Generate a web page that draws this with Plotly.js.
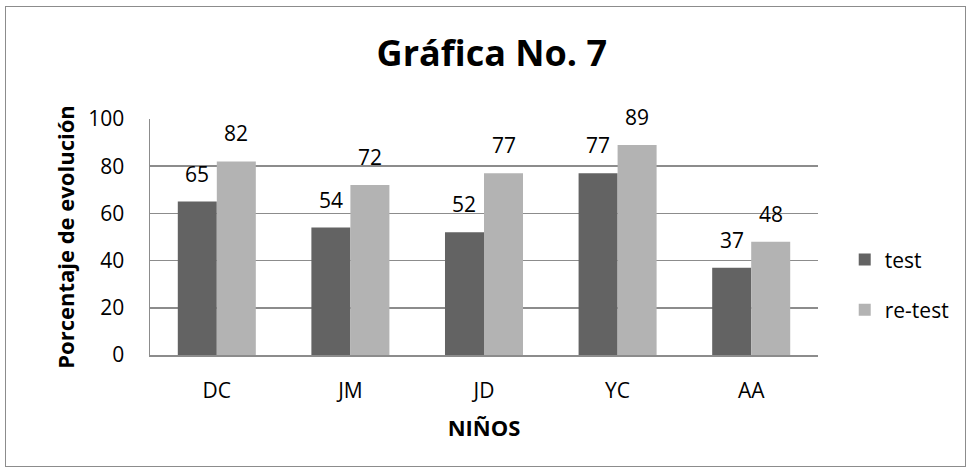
<!DOCTYPE html>
<html>
<head>
<meta charset="utf-8">
<script src="https://cdn.plot.ly/plotly-3.0.1.min.js"></script>
<style>
html,body{margin:0;padding:0;background:#fff;}
#wrap{position:absolute;left:5px;top:6px;width:961px;height:461px;border:1.5px solid #8c8c8c;box-sizing:border-box;}
#chart{position:absolute;left:0;top:0;width:972px;height:475px;}
</style>
</head>
<body>
<div id="wrap"></div>
<div id="chart"></div>
<script>
const categories = ["DC", "JM", "JD", "YC", "AA"];
const testValues = [65, 54, 52, 77, 37];
const retestValues = [82, 72, 77, 89, 48];
const seriesNames = ["test", "re-test"];
const yTicks = [0, 20, 40, 60, 80, 100];

const FONT = "'Open Sans', sans-serif";
const BARGAP = 0.416;

const traces = [
  {type:"bar", name:seriesNames[0], x:categories, y:testValues, legendgroup:"a",
   marker:{color:"#636363"}, hoverinfo:"none"},
  {type:"bar", name:seriesNames[1], x:categories, y:retestValues, legendgroup:"b",
   marker:{color:"#b3b3b3"}, hoverinfo:"none"}
];

// data labels: annotations placed through the axes, shifted to each bar's centre
const plotW = 972 - 150 - 154;
const halfBar = plotW / categories.length * (1 - BARGAP) / 4;
const annotations = [];
[testValues, retestValues].forEach((vals, s) => {
  vals.forEach((v, i) => {
    annotations.push({x:categories[i], y:v, xref:"x", yref:"y", text:String(v), showarrow:false,
      xshift:(s === 0 ? -1 : 1) * halfBar, yanchor:"bottom", yshift:12,
      font:{family:FONT, size:21, color:"#000"}});
  });
});

const layout = {
  width:972, height:475,
  margin:{l:150, r:154, t:119, b:120},
  paper_bgcolor:"rgba(0,0,0,0)", plot_bgcolor:"#fff",
  font:{family:FONT, color:"#000"},
  title:{text:"<b>Gráfica No. 7</b>", font:{family:FONT, size:36, color:"#000"},
         x:0.506, xanchor:"center", y:0.887, yanchor:"middle"},
  barmode:"group", bargap:BARGAP, bargroupgap:0,
  xaxis:{type:"category", showgrid:false, showline:true, linecolor:"#8c8c8c", linewidth:1.5,
         ticks:"", tickfont:{family:FONT, size:21, color:"#000"}, ticklabelstandoff:16,
         title:{text:"<b>NIÑOS</b>", font:{family:FONT, size:22, color:"#000"}, standoff:18},
         fixedrange:true},
  yaxis:{range:[0,100], tickvals:yTicks, showgrid:true, gridcolor:"#8c8c8c", gridwidth:1.5,
         showline:true, linecolor:"#8c8c8c", linewidth:1.5, ticks:"",
         zeroline:false, tickfont:{family:FONT, size:21, color:"#000"}, ticklabelstandoff:20,
         title:{text:"<b>Porcentaje de evolución</b>", font:{family:FONT, size:22, color:"#000"}, standoff:7}},
  legend:{x:1.040, xanchor:"left", y:0.297, yanchor:"middle", font:{family:FONT, size:21, color:"#000"},
          bgcolor:"rgba(0,0,0,0)", traceorder:"grouped", tracegroupgap:20, itemwidth:30},
  annotations:annotations,
  showlegend:true
};

Plotly.newPlot("chart", traces, layout, {displayModeBar:false, staticPlot:true});
</script>
</body>
</html>
